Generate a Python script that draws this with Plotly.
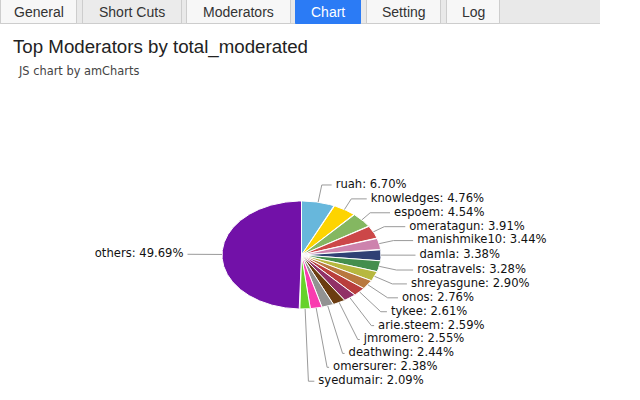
import math
import plotly.graph_objects as go

# ---- data ----
names = ["ruah", "knowledges", "espoem", "omeratagun", "manishmike10", "damla",
         "rosatravels", "shreyasgune", "onos", "tykee", "arie.steem", "jmromero",
         "deathwing", "omersurer", "syedumair", "others"]
percents = [6.70, 4.76, 4.54, 3.91, 3.44, 3.38, 3.28, 2.90, 2.76, 2.61, 2.59,
            2.55, 2.44, 2.38, 2.09, 49.69]
colors = ["#67b7dc", "#fdd400", "#84b761", "#cc4748", "#cd82ad", "#2f4074",
          "#448e4d", "#b7b83f", "#b9783f", "#b93e3d", "#913167", "#6b3d12",
          "#929292", "#f93caf", "#66d22a", "#7211a8"]
tabs = ["General", "Short Cuts", "Moderators", "Chart", "Setting", "Log"]
active_tab = "Chart"
title = "Top Moderators by total_moderated"
subtitle = "JS chart by amCharts"

# ---- layout constants (pixel space) ----
W, H = 640, 400
CX, CY = 301.5, 255.0
RX, RY = 79.5, 54.0
LAB_RY = 71.6
LAB_SPACING = 13.9
LAB_X0, LAB_XR = 12.0, 106.0
tab_edges = [(0, 77), (82, 182), (186, 291), (295, 361), (366, 441), (446, 500)]

fig = go.Figure()

total = sum(percents)
cum = 0.0
mids = []
for name, p, c in zip(names, percents, colors):
    a0 = cum / total * 360.0
    a1 = (cum + p) / total * 360.0
    cum += p
    mids.append((a0 + a1) / 2.0)
    n = max(2, int((a1 - a0) / 0.5) + 1)
    xs, ys = [CX], [CY]
    for k in range(n + 1):
        t = math.radians(a0 + (a1 - a0) * k / n)
        xs.append(CX + RX * math.sin(t))
        ys.append(CY - RY * math.cos(t))
    xs.append(CX)
    ys.append(CY)
    fig.add_trace(go.Scatter(x=xs, y=ys, mode="lines", fill="toself",
                             fillcolor=c, line=dict(color="white", width=1),
                             hoverinfo="skip", showlegend=False))

# ---- labels with leader lines ----
lx, ly = [], []
rt_x, rt_y, rt_t = [], [], []
lt_x, lt_y, lt_t = [], [], []
prev_y = -1e9
for name, p, m in zip(names, percents, mids):
    t = math.radians(m)
    s, co = math.sin(t), math.cos(t)
    ex, ey = CX + RX * s, CY - RY * co
    yl = CY - LAB_RY * co
    right = s >= 0
    if right:
        yl = max(yl, prev_y + LAB_SPACING)
        prev_y = yl
        tx = CX + LAB_X0 + LAB_XR * s
    else:
        tx = CX - LAB_X0 + LAB_XR * s
    dx, dy = s, -co
    if abs(dy) > 1e-6 and (yl - ey) / dy > 0:
        k = (yl - ey) / dy
        bx = ex + dx * k
    else:
        bx = tx
    if right:
        bx = min(bx, tx - 6)
        endx = tx - 4
    else:
        bx = max(bx, tx + 6)
        endx = tx + 4
    lx += [ex, bx, endx, None]
    ly += [ey, yl, yl, None]
    label = f"{name}: {p:.2f}%"
    if right:
        rt_x.append(tx); rt_y.append(yl); rt_t.append(label)
    else:
        lt_x.append(tx); lt_y.append(yl); lt_t.append(label)

fig.add_trace(go.Scatter(x=lx, y=ly, mode="lines", line=dict(color="#9a9a9a", width=1),
                         hoverinfo="skip", showlegend=False))
lab_font = dict(family="DejaVu Sans", size=11.6, color="#111")
fig.add_trace(go.Scatter(x=rt_x, y=rt_y, text=rt_t, mode="text", textposition="middle right",
                         textfont=lab_font, hoverinfo="skip", showlegend=False))
fig.add_trace(go.Scatter(x=lt_x, y=lt_y, text=lt_t, mode="text", textposition="middle left",
                         textfont=lab_font, hoverinfo="skip", showlegend=False))

# ---- tab bar ----
shapes = [dict(type="rect", x0=0, x1=600, y0=-1, y1=23, fillcolor="#e9e9e9",
               line=dict(width=0), layer="below"),
          dict(type="line", x0=0, x1=600, y0=23.5, y1=23.5, line=dict(color="#d2d2d2", width=1))]
annotations = []
for name, (x0, x1) in zip(tabs, tab_edges):
    active = name == active_tab
    fill = "#2b7bf5" if active else ("#ebebeb" if name == "Short Cuts" else "#f7f7f7")
    shapes.append(dict(type="rect", x0=x0 + 0.5, x1=x1 - 0.5, y0=-2, y1=23.5, fillcolor=fill,
                       line=dict(color="#2b7bf5" if active else "#cdcdcd", width=1)))
    annotations.append(dict(x=(x0 + x1) / 2, y=12, text=name, showarrow=False,
                            xanchor="center", yanchor="middle",
                            font=dict(family="Liberation Sans", size=14,
                                      color="white" if active else "#333")))

annotations.append(dict(x=11, y=47, text=title, showarrow=False, xanchor="left", yanchor="middle",
                        font=dict(family="Liberation Sans", size=18.7, color="#222")))
annotations.append(dict(x=16, y=71, text=subtitle, showarrow=False, xanchor="left", yanchor="middle",
                        font=dict(family="DejaVu Sans", size=11.4, color="#444")))

fig.update_layout(width=W, height=H, margin=dict(l=0, r=0, t=0, b=0),
                  paper_bgcolor="white", plot_bgcolor="white",
                  xaxis=dict(range=[0, W], visible=False, fixedrange=True),
                  yaxis=dict(range=[H, 0], visible=False, fixedrange=True),
                  shapes=shapes, annotations=annotations, showlegend=False)
fig.write_html("out.html")
